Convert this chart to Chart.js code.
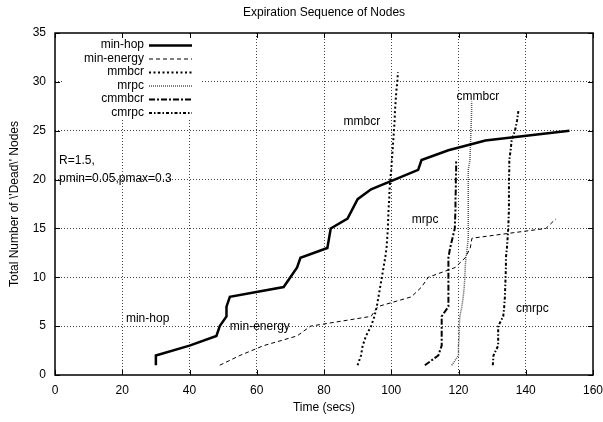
<!DOCTYPE html>
<html><head><meta charset="utf-8">
<script src="https://cdn.jsdelivr.net/npm/chart.js@4.4.1/dist/chart.umd.min.js"></script>
<style>html,body{margin:0;padding:0;background:#fff}#wrap{width:603px;height:422px}</style>
</head><body><div id="wrap"><canvas id="c" width="603" height="422"></canvas></div>
<script>
// ---- data ----
const seriesNames = ['min-hop', 'min-energy', 'mmbcr', 'mrpc', 'cmmbcr', 'cmrpc'];

const minHopT = [30, 30, 40, 48, 49, 51, 51, 52, 68, 70, 72, 73, 81, 81.5, 82, 87, 88.5, 90, 94, 101, 108, 109, 117, 128, 153];
const minHopN = [1, 2, 3, 4, 5, 6, 7, 8, 9, 10, 11, 12, 13, 14, 15, 16, 17, 18, 19, 20, 21, 22, 23, 24, 25];

const minEnergyT = [49, 55, 62, 72, 76, 94, 96, 106, 109, 111, 119, 122, 123.5, 124, 146, 149];
const minEnergyN = [1, 2, 3, 4, 5, 6, 7, 8, 9, 10, 11, 12, 13, 14, 15, 16];

const mmbcrT = [90, 91, 91.5, 92.5, 94, 95, 95.7, 96.2, 96.7, 97.2, 97.7, 98.2, 98.6, 98.8, 99, 99.1, 99.2, 99.4, 99.5, 99.7, 100, 100.2, 100.4, 100.6, 100.8, 101, 101.1, 101.3, 101.5, 101.8, 102];
const mmbcrN = [1, 2, 3, 4, 5, 6, 7, 8, 9, 10, 11, 12, 13, 14, 15, 16, 17, 18, 19, 20, 21, 22, 23, 24, 25, 26, 27, 28, 29, 30, 31];

const mrpcT = [118, 120, 120, 120.2, 120.2, 120.4, 121, 121.4, 121.7, 121.9, 122, 122.2, 122.6, 122.9, 122.9, 122.9, 122.9, 122.9, 122.9, 122.9, 122.9, 123.4, 123.5, 123.6, 123.7, 123.8, 123.9, 123.9];
const mrpcN = [1, 2, 3, 4, 5, 6, 7, 8, 9, 10, 11, 12, 13, 14, 15, 16, 17, 18, 19, 20, 21, 22, 23, 24, 25, 26, 27, 28];

const cmmbcrT = [110, 114, 115, 115, 115, 115, 117, 117, 117, 117, 117, 117, 117.5, 118.2, 118.9, 119, 119.1, 119.1, 119.2, 119.2, 119.3, 119.3];
const cmmbcrN = [1, 2, 3, 4, 5, 6, 7, 8, 9, 10, 11, 12, 13, 14, 15, 16, 17, 18, 19, 20, 21, 22];

const cmrpcT = [130.2, 130.4, 131.8, 131.8, 131.8, 133.3, 133.6, 133.8, 133.9, 134, 134.1, 134.1, 134.4, 134.6, 134.8, 134.9, 135, 135, 135, 135, 135.1, 135.1, 135.5, 135.8, 136.8, 137.4, 137.8];
const cmrpcN = [1, 2, 3, 4, 5, 6, 7, 8, 9, 10, 11, 12, 13, 14, 15, 16, 17, 18, 19, 20, 21, 22, 23, 24, 25, 26, 27];

const xTicks = [0, 20, 40, 60, 80, 100, 120, 140, 160];
const yTicks = [0, 5, 10, 15, 20, 25, 30, 35];

const titleText = 'Expiration Sequence of Nodes';
const xTitle = 'Time (secs)';
const yTitle = "Total Number of \\'Dead\\' Nodes";

// in-plot text labels (data coordinates)
const noteTexts = ['min-hop', 'min-energy', 'mmbcr', 'cmmbcr', 'mrpc', 'cmrpc', 'R=1.5,', 'pmin=0.05,pmax=0.3'];
const noteX = [21.1, 52.0, 85.8, 119.4, 106.1, 137.1, 1.2, 1.2];
const noteY = [5.8, 4.9, 25.9, 28.5, 15.9, 6.8, 21.9, 20.1];

// ---- styles ----
const FONT = "'Liberation Sans', Arial, Helvetica, sans-serif";
const styles = [
  {color: '#000', width: 2.5, dash: []},
  {color: '#000', width: 1, dash: [4, 3]},
  {color: '#000', width: 2, dash: [2, 2.5]},
  {color: '#555', width: 1.5, dash: [1, 1]},
  {color: '#000', width: 2, dash: [6, 2, 2, 2]},
  {color: '#000', width: 2, dash: [3, 2, 1.5, 2]}
];

function pts(t, n) { return t.map((v, i) => ({x: v, y: n[i]})); }
const seriesData = [
  pts(minHopT, minHopN), pts(minEnergyT, minEnergyN), pts(mmbcrT, mmbcrN),
  pts(mrpcT, mrpcN), pts(cmmbcrT, cmmbcrN), pts(cmrpcT, cmrpcN)
];

const datasets = seriesNames.map((name, i) => ({
  label: name,
  data: seriesData[i],
  showLine: true,
  borderColor: styles[i].color,
  borderWidth: styles[i].width,
  borderDash: styles[i].dash,
  pointRadius: 0,
  tension: 0,
  fill: false
}));

const gp = {
  id: 'gp',
  beforeDatasetsDraw(chart) {
    const ctx = chart.ctx, a = chart.chartArea;
    ctx.save();
    ctx.fillStyle = '#fff';
    ctx.fillRect(a.left + 7, a.top + 1, 138, 86);
    ctx.restore();
  },
  afterDatasetsDraw(chart) {
    const ctx = chart.ctx, a = chart.chartArea;
    const xs = chart.scales.x, ys = chart.scales.y;
    ctx.save();
    // border
    ctx.strokeStyle = '#000';
    ctx.lineWidth = 1.5;
    ctx.setLineDash([]);
    ctx.strokeRect(a.left, a.top, a.right - a.left, a.bottom - a.top);
    // inward ticks
    ctx.lineWidth = 1;
    ctx.beginPath();
    xTicks.forEach(v => {
      const px = Math.round(xs.getPixelForValue(v)) + 0.5;
      ctx.moveTo(px, a.bottom); ctx.lineTo(px, a.bottom - 5);
      ctx.moveTo(px, a.top); ctx.lineTo(px, a.top + 5);
    });
    yTicks.forEach(v => {
      const py = Math.round(ys.getPixelForValue(v)) + 0.5;
      ctx.moveTo(a.left, py); ctx.lineTo(a.left + 5, py);
      ctx.moveTo(a.right, py); ctx.lineTo(a.right - 5, py);
    });
    ctx.stroke();
    // title
    ctx.font = '12px ' + FONT;
    ctx.fillStyle = '#000';
    ctx.textAlign = 'center';
    ctx.textBaseline = 'middle';
    ctx.fillText(titleText, (a.left + a.right) / 2, 13);
    // legend
    ctx.textAlign = 'right';
    seriesNames.forEach((name, i) => {
      const y = a.top + 12 + i * 13.5;
      ctx.fillText(name, a.left + 89, y);
      ctx.beginPath();
      ctx.strokeStyle = styles[i].color;
      ctx.lineWidth = styles[i].width;
      ctx.setLineDash(styles[i].dash);
      ctx.moveTo(a.left + 94, y + 0.5);
      ctx.lineTo(a.left + 137, y + 0.5);
      ctx.stroke();
    });
    ctx.setLineDash([]);
    // notes
    ctx.textAlign = 'left';
    ctx.fillStyle = '#000';
    noteTexts.forEach((t, i) => {
      ctx.fillText(t, xs.getPixelForValue(noteX[i]), ys.getPixelForValue(noteY[i]));
    });
    ctx.restore();
  }
};

const gridColor = (c) => (c.tick && (c.tick.value === c.scale.min || c.tick.value === c.scale.max)) ? 'rgba(0,0,0,0)' : '#444';

new Chart(document.getElementById('c'), {
  type: 'scatter',
  data: {datasets},
  plugins: [gp],
  options: {
    responsive: false,
    animation: false,
    devicePixelRatio: 1,
    layout: {padding: {left: 0, right: 10, top: 33, bottom: 0}},
    plugins: {
      legend: {display: false},
      tooltip: {enabled: false},
      title: {display: false}
    },
    scales: {
      x: {
        type: 'linear', min: 0, max: 160,
        afterBuildTicks: s => { s.ticks = xTicks.map(v => ({value: v})); },
        ticks: {color: '#000', font: {family: FONT, size: 12}, padding: 8, maxRotation: 0, autoSkip: false},
        grid: {color: gridColor, lineWidth: 1, drawTicks: false},
        border: {display: false, dash: [1, 2]},
        title: {display: true, text: xTitle, color: '#000', font: {family: FONT, size: 12}, padding: {top: 0, bottom: 7}},
        afterFit: s => { s.height = 47; s.paddingLeft = 0; s.paddingRight = 0; }
      },
      y: {
        type: 'linear', min: 0, max: 35,
        afterBuildTicks: s => { s.ticks = yTicks.map(v => ({value: v})); },
        ticks: {color: '#000', font: {family: FONT, size: 12}, padding: 9, autoSkip: false},
        grid: {color: gridColor, lineWidth: 1, drawTicks: false},
        border: {display: false, dash: [1, 2]},
        title: {display: true, text: yTitle, color: '#000', font: {family: FONT, size: 12}, padding: {top: 7, bottom: 0}},
        afterFit: s => { s.width = 55; s.paddingTop = 0; s.paddingBottom = 0; }
      }
    }
  }
});
</script>
</body></html>
